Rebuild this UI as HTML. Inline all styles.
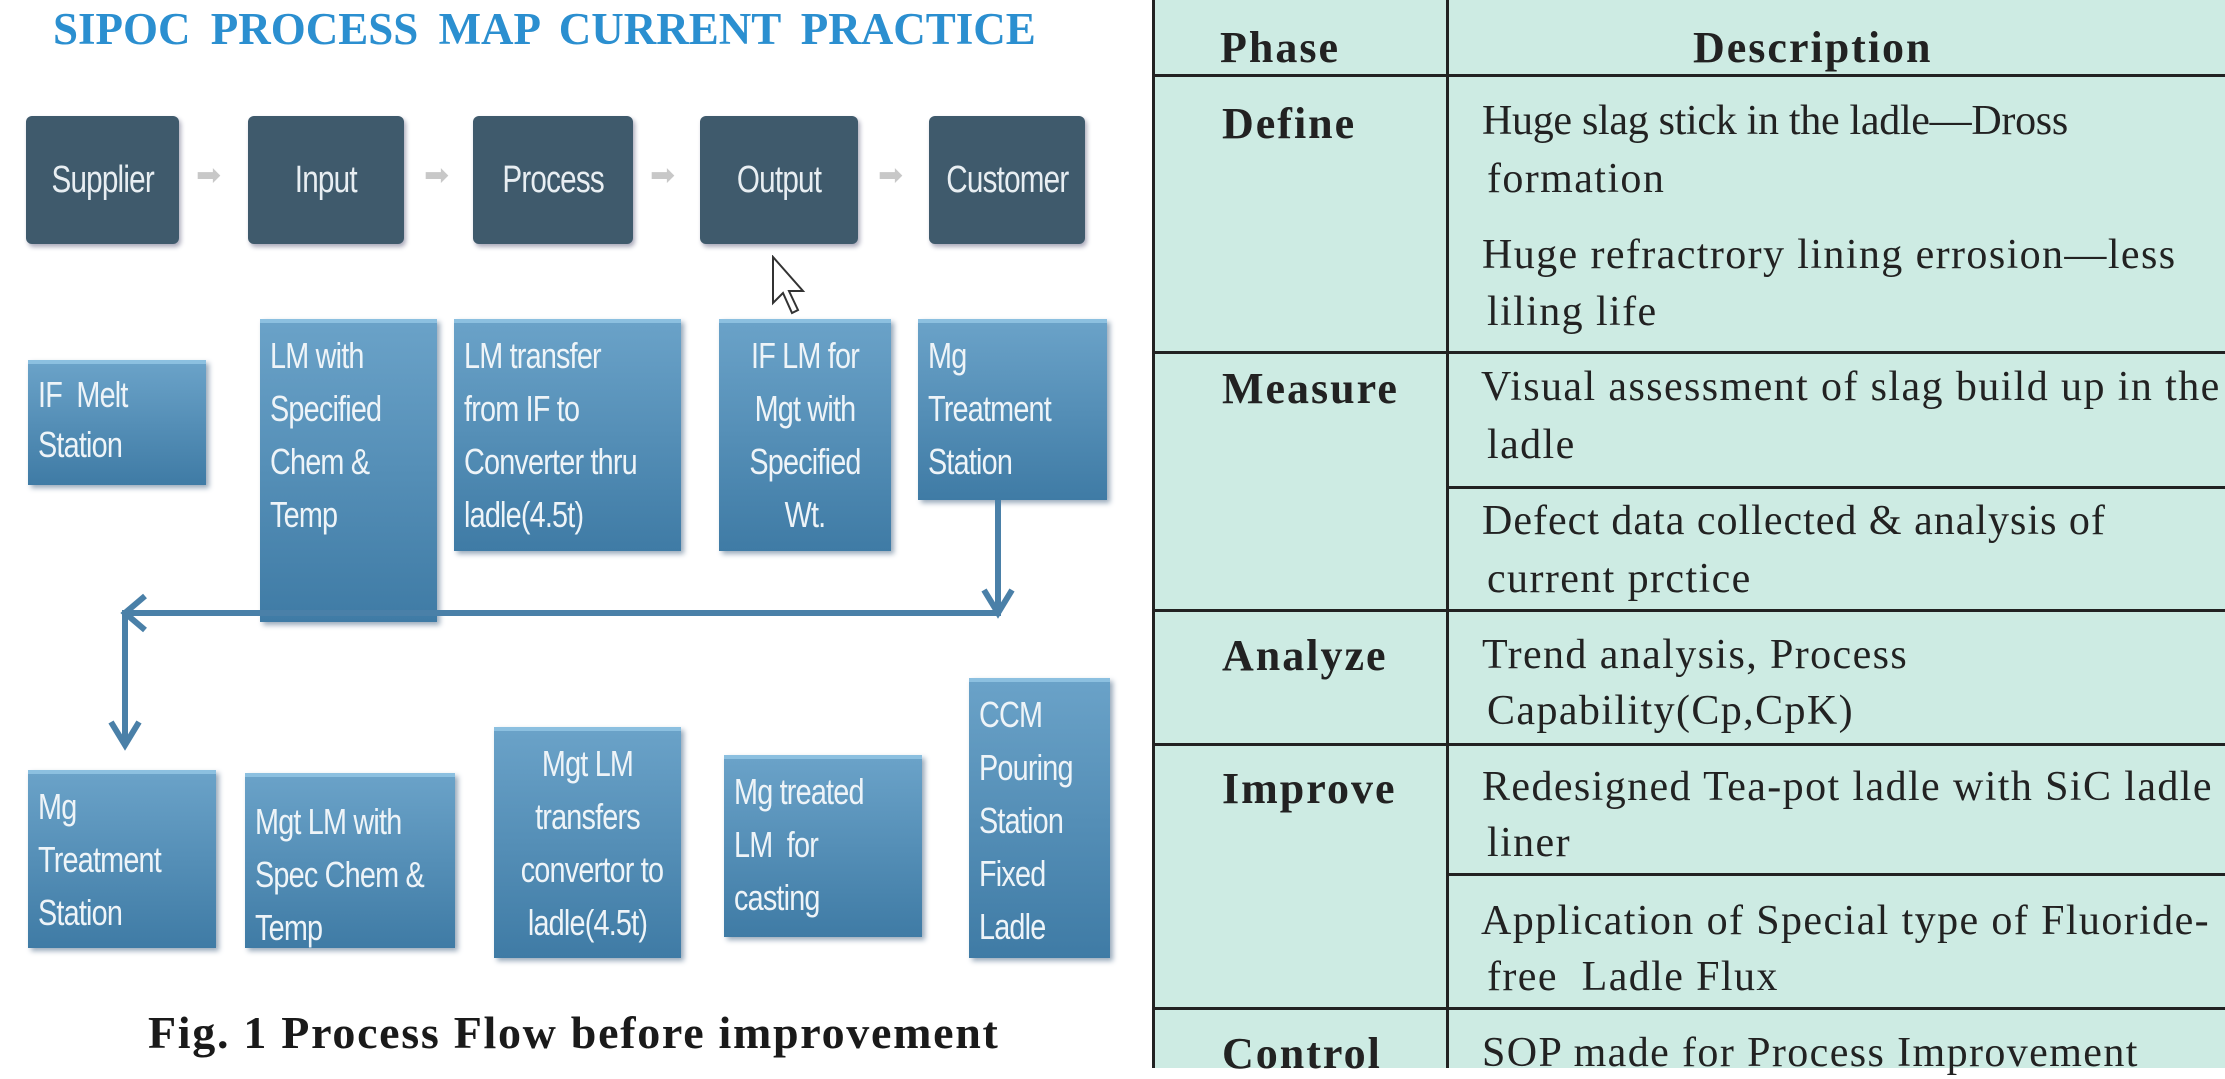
<!DOCTYPE html>
<html><head><meta charset="utf-8"><style>
*{margin:0;padding:0;box-sizing:border-box}
body{width:2225px;height:1068px;background:#fff;position:relative;overflow:hidden;font-family:"Liberation Sans",sans-serif}
.a{position:absolute}
.title{left:53px;top:3px;font:bold 45px "Liberation Serif",serif;color:#2b8fd0;word-spacing:9px;white-space:nowrap}
.top{background:#3f5a6c;color:#e8eef2;border-radius:6px;display:flex;align-items:center;justify-content:center;box-shadow:2px 3px 5px #aab}
.top span{font-size:38px;display:inline-block;transform:scaleX(0.78);letter-spacing:-1px;white-space:nowrap}
.sa{color:#c8c8c8;font-size:30px}
.bx{background:linear-gradient(#6aa2c8,#3f7ba5);border-top:4px solid #8cc0e0;color:#eef4f8;line-height:53px;padding:6px 10px;box-shadow:3px 3px 5px #9ab;overflow:visible}
.bx span{display:block;font-size:36px;transform:scaleX(0.8);transform-origin:left top;white-space:nowrap;letter-spacing:-1px}
.bx.c span{transform-origin:center top;text-align:center}
.cap{left:148px;top:1006px;font:bold 46px "Liberation Serif",serif;letter-spacing:1.7px;color:#1a1a1a;white-space:nowrap}
.tbl{left:1152px;top:0;width:1080px;height:1068px;background:#cdebe3;border-left:3px solid #222}
.h{background:#222;height:3px}
.t{font:42px "Liberation Serif",serif;letter-spacing:1.4px;color:#222;white-space:nowrap}
.p{font:bold 44px "Liberation Serif",serif;letter-spacing:2px;color:#222;white-space:nowrap}
</style></head><body>
<div class="a title">SIPOC  PROCESS  MAP  CURRENT  PRACTICE</div>

<div class="a top" style="left:26px;top:116px;width:153px;height:128px"><span>Supplier</span></div>
<div class="a top" style="left:248px;top:116px;width:156px;height:128px"><span>Input</span></div>
<div class="a top" style="left:473px;top:116px;width:160px;height:128px"><span>Process</span></div>
<div class="a top" style="left:700px;top:116px;width:158px;height:128px"><span>Output</span></div>
<div class="a top" style="left:929px;top:116px;width:156px;height:128px"><span>Customer</span></div>
<div class="a sa" style="left:196px;top:158px">➡</div>
<div class="a sa" style="left:424px;top:158px">➡</div>
<div class="a sa" style="left:650px;top:158px">➡</div>
<div class="a sa" style="left:878px;top:158px">➡</div>
<svg class="a" style="left:770px;top:255px" width="40" height="70"><path d="M3 2 L3 48 L13 38 L22 58 L28 55 L19 36 L33 36 Z" fill="#fff" stroke="#333" stroke-width="2"/></svg>

<div class="a bx" style="left:28px;top:360px;width:178px;height:125px;line-height:50px"><span>IF &nbsp;Melt<br>Station</span></div>
<div class="a bx" style="left:260px;top:319px;width:177px;height:303px"><span>LM with<br>Specified<br>Chem &amp;<br>Temp</span></div>
<div class="a bx" style="left:454px;top:319px;width:227px;height:232px"><span>LM transfer<br>from IF to<br>Converter thru<br>ladle(4.5t)</span></div>
<div class="a bx c" style="left:719px;top:319px;width:172px;height:232px"><span>IF LM for<br>Mgt with<br>Specified<br>Wt.</span></div>
<div class="a bx" style="left:918px;top:319px;width:189px;height:181px"><span>Mg<br>Treatment<br>Station</span></div>

<svg class="a" style="left:0;top:0" width="1150" height="1000">
<g stroke="#4a80a8" stroke-width="6" fill="none">
<path d="M998 500 V613 H125 V745"/>
<path d="M984 590 L998 613 L1012 590"/>
<path d="M145 596 L125 613 L145 630"/>
<path d="M111 722 L125 745 L139 722"/>
</g></svg>

<div class="a bx" style="left:28px;top:770px;width:188px;height:178px"><span>Mg<br>Treatment<br>Station</span></div>
<div class="a bx" style="left:245px;top:773px;width:210px;height:175px;padding-top:18px"><span>Mgt LM with<br>Spec Chem &amp;<br>Temp</span></div>
<div class="a bx c" style="left:494px;top:727px;width:187px;height:231px"><span>Mgt LM<br>transfers<br>convertor to<br>ladle(4.5t)</span></div>
<div class="a bx" style="left:724px;top:755px;width:198px;height:182px"><span>Mg treated<br>LM &nbsp;for<br>casting</span></div>
<div class="a bx" style="left:969px;top:678px;width:141px;height:280px"><span>CCM<br>Pouring<br>Station<br>Fixed<br>Ladle</span></div>

<div class="a cap">Fig. 1 Process Flow before improvement</div>

<div class="a tbl"></div>
<div class="a" style="left:1446px;top:0;width:3px;height:1068px;background:#222"></div>
<div class="a h" style="left:1152px;top:74px;width:1073px"></div>
<div class="a h" style="left:1152px;top:351px;width:1073px"></div>
<div class="a h" style="left:1446px;top:486px;width:779px"></div>
<div class="a h" style="left:1152px;top:609px;width:1073px"></div>
<div class="a h" style="left:1152px;top:743px;width:1073px"></div>
<div class="a h" style="left:1446px;top:873px;width:779px"></div>
<div class="a h" style="left:1152px;top:1007px;width:1073px"></div>

<div class="a p" style="left:1220px;top:22px">Phase</div>
<div class="a p" style="left:1693px;top:22px">Description</div>
<div class="a p" style="left:1222px;top:98px">Define</div>
<div class="a p" style="left:1222px;top:363px">Measure</div>
<div class="a p" style="left:1222px;top:630px">Analyze</div>
<div class="a p" style="left:1222px;top:763px">Improve</div>
<div class="a p" style="left:1222px;top:1028px">Control</div>

<div class="a t" style="left:1482px;top:97px;letter-spacing:-0.3px">Huge slag stick in the ladle—Dross</div>
<div class="a t" style="left:1487px;top:155px">formation</div>
<div class="a t" style="left:1482px;top:231px">Huge refractrory lining errosion—less</div>
<div class="a t" style="left:1487px;top:288px">liling life</div>
<div class="a t" style="left:1481px;top:363px">Visual assessment of slag build up in the</div>
<div class="a t" style="left:1487px;top:421px">ladle</div>
<div class="a t" style="left:1482px;top:497px;letter-spacing:1px">Defect data collected &amp; analysis of</div>
<div class="a t" style="left:1487px;top:555px">current prctice</div>
<div class="a t" style="left:1482px;top:631px">Trend analysis, Process</div>
<div class="a t" style="left:1487px;top:687px">Capability(Cp,CpK)</div>
<div class="a t" style="left:1482px;top:763px">Redesigned Tea-pot ladle with SiC ladle</div>
<div class="a t" style="left:1487px;top:819px">liner</div>
<div class="a t" style="left:1481px;top:897px">Application of Special type of Fluoride-</div>
<div class="a t" style="left:1487px;top:953px">free &nbsp;Ladle Flux</div>
<div class="a t" style="left:1482px;top:1029px">SOP made for Process Improvement</div>
</body></html>
